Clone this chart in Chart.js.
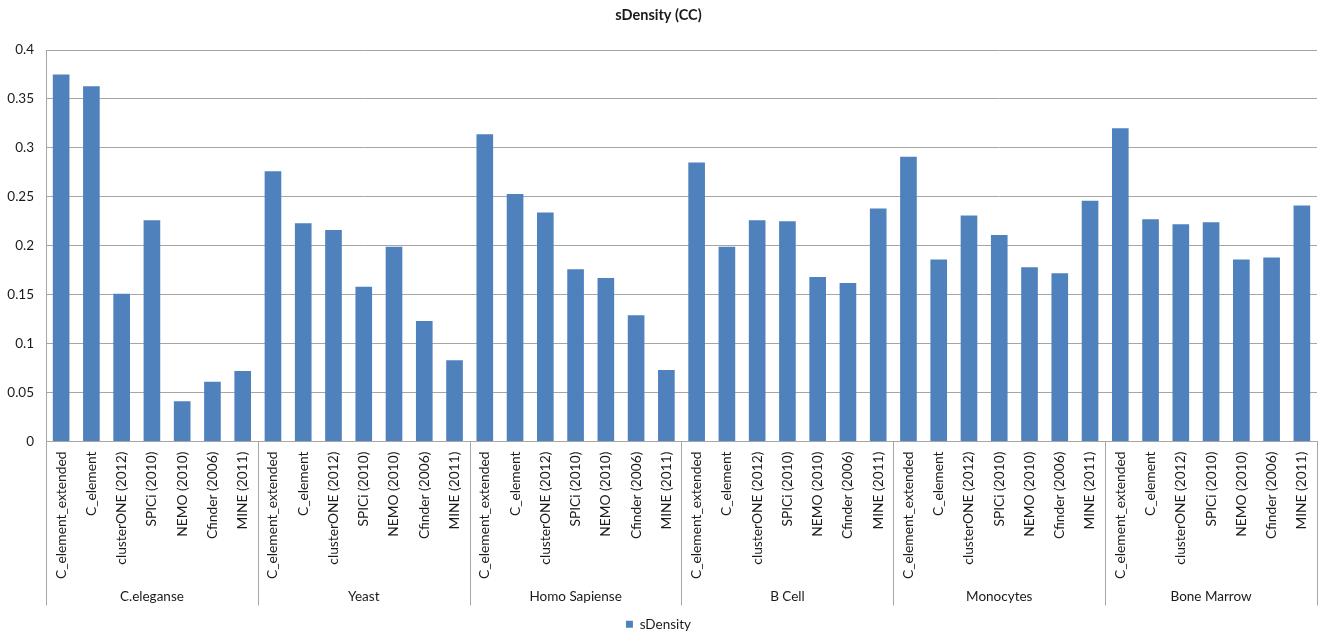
<!DOCTYPE html>
<html>
<head>
<meta charset="utf-8">
<script src="https://cdn.jsdelivr.net/npm/chart.js@4/dist/chart.umd.min.js"></script>
<style>
  html, body { margin: 0; padding: 0; background: #fff; }
  #wrap { width: 1319px; height: 641px; position: relative; }
</style>
</head>
<body>
<div id="wrap"><canvas id="chart"></canvas></div>
<script>
// Datasets (groups) and the methods compared inside each one
const groups = ['C.eleganse', 'Yeast', 'Homo Sapiense', 'B Cell', 'Monocytes', 'Bone Marrow']
const methods = ['C_element_extended', 'C_element', 'clusterONE (2012)', 'SPICi (2010)', 'NEMO (2010)', 'Cfinder (2006)', 'MINE (2011)']

// sDensity values, one row per group
const celeganse = [0.375, 0.363, 0.151, 0.226, 0.041, 0.061, 0.072]
const yeast = [0.276, 0.223, 0.216, 0.158, 0.199, 0.123, 0.083]
const homoSapiense = [0.314, 0.253, 0.234, 0.176, 0.167, 0.129, 0.073]
const bCell = [0.285, 0.199, 0.226, 0.225, 0.168, 0.162, 0.238]
const monocytes = [0.291, 0.186, 0.231, 0.211, 0.178, 0.172, 0.246]
const boneMarrow = [0.320, 0.227, 0.222, 0.224, 0.186, 0.188, 0.241]

const yTicks = [0, 0.05, 0.1, 0.15, 0.2, 0.25, 0.3, 0.35, 0.4]

const values = [celeganse, yeast, homoSapiense, bCell, monocytes, boneMarrow].flat()
const labels = groups.flatMap(() => methods)

const BAR = '#4f81bd'
const GRID = '#a6a6a6'
const TEXT = '#1a1a1a'
const FONT = 'Lato, "Open Sans", sans-serif'

// Second level of the category axis: group names plus the separator lines
const groupAxis = {
    id: 'groupAxis',
    afterDraw(chart) {
        const { ctx, chartArea, scales: { x } } = chart
        const n = methods.length
        const step = x.getPixelForValue(1) - x.getPixelForValue(0)
        const bottom = chartArea.bottom + 164
        ctx.save()
        ctx.strokeStyle = GRID
        ctx.lineWidth = 1
        for (let g = 0; g <= groups.length; g++) {
            const px = Math.round(x.getPixelForValue(g * n) - step / 2) + 0.5
            ctx.beginPath()
            ctx.moveTo(px, chartArea.bottom)
            ctx.lineTo(px, bottom)
            ctx.stroke()
        }
        ctx.fillStyle = TEXT
        ctx.font = '13.5px ' + FONT
        ctx.textAlign = 'center'
        ctx.textBaseline = 'middle'
        groups.forEach((name, g) => {
            const mid = (x.getPixelForValue(g * n) + x.getPixelForValue(g * n + n - 1)) / 2
            ctx.fillText(name, mid, chartArea.bottom + 155)
        })
        ctx.restore()
    }
}

new Chart(document.getElementById('chart'), {
    type: 'bar',
    data: {
        labels,
        datasets: [{
            label: 'sDensity',
            data: values,
            backgroundColor: BAR,
            borderWidth: 0,
            categoryPercentage: 1,
            barPercentage: 0.55
        }]
    },
    options: {
        responsive: true,
        maintainAspectRatio: false,
        animation: false,
        layout: { padding: { left: 0, right: 2, top: 0, bottom: 0 } },
        plugins: {
            title: {
                display: true,
                text: 'sDensity (CC)',
                color: TEXT,
                font: { family: FONT, size: 14.5, weight: 'bold' },
                padding: { top: 7, bottom: 25.6 }
            },
            legend: {
                position: 'bottom',
                labels: {
                    color: TEXT,
                    font: { family: FONT, size: 13.5 },
                    boxWidth: 7,
                    boxHeight: 7,
                    padding: 1
                }
            },
            tooltip: { enabled: false }
        },
        scales: {
            x: {
                grid: { display: false, drawTicks: false },
                border: { display: true, color: GRID },
                ticks: {
                    color: TEXT,
                    font: { family: FONT, size: 13.8 },
                    minRotation: 90,
                    maxRotation: 90,
                    autoSkip: false,
                    padding: 10
                },
                afterFit: (s) => {
                    s.height = 175
                    s.paddingLeft = 0
                    s.paddingRight = 0
                }
            },
            y: {
                min: 0,
                max: 0.4,
                afterBuildTicks: (s) => { s.ticks = yTicks.map(v => ({ value: v })) },
                grid: { color: GRID, drawTicks: false },
                border: { display: true, color: GRID },
                ticks: {
                    color: TEXT,
                    font: { family: FONT, size: 13.5 },
                    padding: 12,
                    callback: (v) => String(+v.toFixed(2))
                },
                afterFit: (s) => {
                    s.width = 46
                    s.paddingTop = 0
                    s.paddingBottom = 0
                }
            }
        }
    },
    plugins: [groupAxis]
})
</script>
</body>
</html>
